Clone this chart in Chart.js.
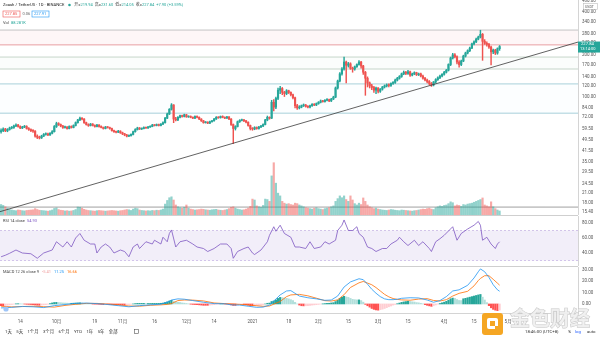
<!DOCTYPE html>
<html>
<head>
<meta charset="utf-8">
<script src="https://cdn.jsdelivr.net/npm/chart.js@4.4.0/dist/chart.umd.min.js"></script>
<style>
  html, body { margin: 0; padding: 0; background: #fff; }
  #wrap { position: relative; width: 600px; height: 338px; overflow: hidden; background: #fff; }
  canvas { position: absolute; left: 0; }
  .sep { position: absolute; left: 0; width: 578px; height: 1px; background: #cfcfcf; }
</style>
</head>
<body>
<div id="wrap">
  <canvas id="price" width="600" height="215" style="top:0"></canvas>
  <div class="sep" style="top:215px"></div>
  <canvas id="rsi" width="600" height="50" style="top:216px"></canvas>
  <div class="sep" style="top:266px"></div>
  <canvas id="macd" width="600" height="59" style="top:267px"></canvas>
  <canvas id="overlay" width="600" height="338" style="top:0;pointer-events:none"></canvas>
</div>
<script>
// ZEC/USDT daily candles (Binance), 2020-09-05 .. 2021-04-27
const firstOpen = 57;
const closes = [
  58, 59.5, 57.8, 59, 60.5, 61, 62.5, 63.5, 62, 60.5, 61.5, 62, 60, 59, 58, 57.5,
  53, 52, 51.5, 53, 54.5, 55, 54, 55.5, 57, 62, 65, 64, 62.5,
  61, 61.5, 60, 62, 61, 63, 66, 69, 71, 70, 66, 64, 63, 64.5, 63, 62, 63.5,
  62, 61, 60, 61.5, 61, 60, 58, 57, 56.5, 57.5, 56, 55, 54, 53, 53.5, 54.5,
  57, 59, 60.5, 59.5, 60, 61, 60.5, 61.5, 62, 63.5, 63, 64, 63, 64.5, 66,
  71, 76, 82, 88, 70, 69, 72, 74, 73, 75, 72.5, 73, 72, 71, 73, 72, 70,
  68, 66, 66.5, 65.5, 67, 68, 70, 72, 71.5, 73, 72, 71, 72.5, 70,
  64, 60, 62, 67, 68.5, 69, 68, 66.5, 63, 60, 59.5, 61, 60, 61.5, 62.5, 64,
  69, 72, 71, 92, 85, 98, 112, 115, 108, 106, 111, 108, 104, 99, 87, 84, 85,
  87, 88, 86, 85, 87, 89, 88, 90, 92, 94, 93, 95, 96, 94, 97, 100,
  116, 130, 146, 158, 177, 168, 172, 160, 158, 164, 170, 177, 166, 150, 136, 126,
  120, 117, 112, 116, 110, 114, 118, 120, 122, 121, 125, 127,
  132, 136, 140, 146, 150, 147, 151, 143, 146, 149, 144, 146, 141,
  136, 132, 129, 125, 122, 128, 133, 137, 141, 145, 150, 155,
  170, 189, 199, 193, 177, 170, 180, 195, 205, 213, 222, 238, 246, 257, 266,
  278, 248, 240, 236, 226, 209, 215, 205, 219.94, 227.84
];
const highs = [
  59.8, 60.6, 60.2, 59.9, 61.4, 62.0, 63.4, 64.8, 64.2, 62.6, 62.2, 63.1, 62.8, 60.9, 59.6, 58.9,
  57.9, 54.1, 53.0, 53.8, 55.3, 55.9, 55.6, 56.2, 57.9, 63.0, 66.5, 66.0, 64.6,
  63.1, 62.4, 62.0, 62.6, 62.7, 63.7, 66.8, 69.8, 72.3, 71.6, 70.6, 66.6, 64.8, 65.2, 65.0, 63.6, 64.1,
  64.0, 62.6, 61.5, 62.1, 62.0, 61.4, 60.4, 58.6, 57.5, 58.2, 57.9, 56.6, 55.5, 54.5, 54.1, 55.0,
  57.6, 59.8, 61.3, 61.0, 60.6, 61.7, 61.5, 62.1, 62.7, 64.2, 64.0, 64.6, 64.5, 65.1, 66.8,
  72.0, 77.0, 83.0, 90.0, 88.5, 72.0, 72.8, 74.8, 74.6, 75.8, 75.6, 73.8, 73.7, 72.6, 73.7, 73.8, 72.5,
  70.4, 68.5, 67.2, 67.0, 67.6, 68.6, 70.8, 72.8, 72.7, 73.6, 73.8, 72.5, 73.1, 73.0,
  70.5, 64.6, 62.8, 67.8, 69.3, 70.0, 69.6, 68.6, 67.0, 63.5, 60.9, 61.8, 61.6, 62.2, 63.2, 64.8,
  69.8, 73.5, 72.6, 95, 96, 100, 116, 119, 117, 110, 113, 112, 109, 105, 100, 89, 87,
  88, 89.5, 88.8, 87, 88, 90, 90, 91, 93, 95.5, 95, 96, 97.5, 97, 98, 101.5,
  118, 132, 149, 162, 192, 180, 176, 175, 163, 166, 172, 181, 179, 168, 152, 139,
  128, 123, 119, 118, 117, 115, 119, 122, 124, 124, 126, 129,
  134, 138, 142, 148, 153, 152, 155, 153, 148, 151, 150, 148, 148,
  143, 138, 134, 131, 127, 129, 135, 139, 143, 147, 152, 157,
  172, 192, 204, 203, 196, 181, 183, 198, 208, 216, 226, 241, 250, 261, 270,
  297, 282, 255, 246, 240, 230, 219, 218, 223, 231.6
];
const lows = [
  55.6, 57.1, 57.0, 56.9, 58.4, 59.6, 60.2, 61.8, 61.3, 59.8, 59.9, 60.8, 59.4, 58.2, 57.1, 56.4,
  52.2, 50.9, 50.6, 51.0, 52.6, 53.8, 53.4, 53.7, 55.0, 56.6, 61.0, 63.0, 61.7,
  60.2, 60.3, 59.3, 59.6, 60.4, 60.6, 62.5, 65.4, 68.2, 69.1, 65.3, 63.4, 62.1, 62.5, 62.5, 61.2, 61.5,
  61.4, 60.5, 59.4, 59.6, 60.4, 59.3, 57.5, 56.3, 55.8, 56.0, 55.4, 54.3, 53.3, 52.4, 52.6, 53.0,
  54.1, 56.5, 58.5, 59.0, 59.0, 59.6, 60.0, 60.0, 61.0, 61.7, 62.5, 62.6, 62.5, 62.6, 64.0,
  65.5, 70.4, 75.3, 81.0, 66.0, 67.8, 68.3, 71.3, 72.2, 72.4, 72.0, 71.9, 71.4, 70.3, 70.4, 71.3, 69.4,
  67.3, 65.4, 65.5, 64.9, 65.0, 66.4, 67.6, 69.5, 70.8, 71.0, 71.4, 70.4, 70.6, 69.4,
  63.0, 47.0, 58.5, 61.5, 66.2, 67.8, 67.2, 65.8, 62.3, 58.6, 58.3, 58.8, 59.3, 59.4, 60.9, 61.8,
  63.5, 68.0, 69.8, 70.5, 80, 83, 96, 106, 104, 101, 104, 106, 102, 97, 84, 82, 82.5,
  84, 85.8, 85, 84, 84, 86, 87, 87, 89, 91, 92, 92, 94, 93, 93, 96,
  99, 114, 128, 143, 155, 126, 163, 157, 150, 155, 162, 168, 160, 145, 103, 118,
  116, 113, 108, 106, 107, 108, 112, 116, 118, 118, 119, 123,
  125, 130, 134, 138, 144, 144, 145, 140, 141, 144, 142, 142, 139,
  134, 130, 126, 122, 119, 120, 126, 131, 135, 139, 143, 148,
  153, 167, 186, 189, 172, 163, 167, 178, 192, 202, 210, 220, 234, 243, 254,
  262, 182, 236, 229, 221, 169, 203, 200, 201, 214.05
];
// volume in thousands of ZEC
const volumes = [
  230, 210, 180, 150, 120, 110, 100, 95, 110, 105, 95, 90, 100, 105, 110, 115, 140, 120, 105, 100,
  95, 90, 85, 95, 110, 145, 155, 120, 105, 100, 90, 95, 85, 90, 100, 120, 175, 170, 150, 125,
  110, 100, 95, 90, 85, 95, 100, 95, 90, 85, 90, 95, 100, 95, 90, 85, 95, 100, 110, 120,
  115, 100, 130, 150, 140, 110, 100, 95, 90, 95, 90, 100, 95, 105, 100, 110, 130, 240, 320, 380,
  400, 330, 220, 180, 160, 150, 170, 220, 150, 130, 120, 110, 115, 120, 130, 125, 115, 110, 105, 115,
  120, 125, 110, 105, 100, 110, 120, 140, 170, 180, 150, 130, 120, 110, 115, 130, 150, 190, 350, 330,
  200, 180, 170, 210, 350, 340, 300, 860, 1150, 700, 480, 420, 300, 260, 240, 250, 230, 220, 260, 250,
  220, 200, 180, 160, 150, 140, 130, 150, 160, 140, 130, 120, 140, 150, 160, 180, 200, 300, 360, 420,
  380, 420, 340, 300, 420, 330, 250, 220, 260, 230, 375, 300, 220, 180, 160, 140, 150, 130, 120, 110,
  105, 100, 110, 120, 115, 105, 100, 95, 110, 105, 100, 95, 90, 85, 95, 100, 110, 120, 130, 125,
  140, 150, 130, 120, 160, 180, 200, 190, 210, 220, 250, 290, 270, 200, 220, 210, 190, 230, 220, 240,
  250, 260, 280, 300, 320, 340, 375, 220, 200, 180, 290, 180, 140, 110, 88.281
];

// horizontal levels and the rising trend line
const levelPrices = [298, 234, 192, 158, 124, 77, 16.7];
const trendStart = { x: -0.5, y: 15.5 };
const trendEnd = { x: 270.8, y: 245 };
const priceTicks = [15.4, 18, 21, 24.5, 29.5, 35, 41.5, 49.5, 59.5, 72, 84, 100, 120, 140, 170, 200, 240, 280, 340, 400, 480];

// RSI 14
const rsiIdx = [0, 2, 4, 7, 10, 14, 17, 20, 24, 26, 29, 31, 33, 35, 37, 39, 42, 44, 45, 47,
  49, 51, 53, 56, 58, 60, 62, 64, 65, 68, 71, 72, 75, 76, 78, 79, 80, 82, 84, 87,
  90, 92, 95, 97, 100, 103, 106, 108, 109, 111, 114, 116, 118, 119, 122, 125, 126, 128, 129, 131,
  133, 136, 138, 140, 143, 145, 147, 150, 152, 154, 157, 158, 160, 161, 163, 165, 167, 168, 170, 172,
  174, 176, 179, 181, 183, 186, 187, 189, 191, 194, 196, 198, 201, 202, 204, 206, 208, 212, 214, 216,
  219, 222, 224, 225, 226, 228, 230, 232, 233, 234];
const rsiVals = [35, 37, 39.6, 44, 40, 39, 33, 40, 44, 55, 48, 55, 48, 60, 66, 57, 52, 52, 40, 48,
  52, 48, 40, 44, 42, 35, 48, 52, 46, 55, 52, 57, 52, 61, 55, 66, 70.7, 48, 55, 57,
  52, 48, 46, 42, 46, 52, 52, 46, 33, 42, 46, 48, 40, 38, 44, 55, 63.6, 75, 69, 77,
  66, 61, 48, 48, 46, 55, 46, 48, 55, 52, 57, 70, 77, 84, 70, 70, 75, 66, 61, 48,
  46, 42, 46, 46, 52, 57, 61, 55, 50, 57, 50, 55, 46, 42, 55, 59, 63.6, 75, 57, 66,
  72, 77, 82, 77, 57, 61, 52, 46, 52, 54.93];
const rsiTicks = [40, 60, 80];

// MACD 12 26 9
const macdIdx = [0, 5, 10, 15, 20, 25, 30, 35, 40, 45, 50, 55, 60, 65, 70, 75, 78, 80, 83, 86,
  90, 95, 100, 105, 108, 112, 116, 120, 123, 126, 128, 131, 134, 136, 140, 144, 148, 152, 155, 158,
  161, 164, 168, 170, 172, 174, 176, 178, 180, 182, 184, 186, 188, 192, 196, 200, 203, 206, 209, 212,
  215, 219, 222, 224, 225, 227, 229, 231, 233, 234];
const macdVals = [-3.5, -3.0, -2.2, -2.5, -3.2, -1.5, -0.5, 0.5, 0.8, 0.3, -0.5, -1.5, -2.5, -1.5, -0.8, -0.2, 1.5, 3.5, 4.5, 4.2,
  3.0, 1.5, 0.3, 0.2, -0.8, -1.0, -2.0, -3.0, -2.8, -1.0, 2.5, 8.0, 11.5, 11.8, 7.0, 5.5, 4.5, 3.2, 3.5, 7.0,
  15.0, 19.5, 22.3, 21.5, 17.5, 13.0, 9.5, 6.5, 4.5, 3.8, 3.8, 4.2, 5.0, 5.5, 5.3, 3.5, 1.5, 3.0, 6.5, 11.5,
  12.5, 16.5, 23.0, 28.5, 31.0, 28.5, 23.5, 17.0, 12.5, 11.25];
const signalVals = [-2.0, -2.6, -2.3, -2.0, -2.4, -2.8, -1.3, -0.3, 0.5, 0.5, -0.1, -0.8, -1.8, -2.0, -1.2, -0.8, -0.4, 0.3, 3.0, 3.5,
  3.4, 2.7, 0.9, 0.3, 0.0, -0.4, -0.9, -1.6, -2.1, -1.8, -0.2, 2.2, 6.5, 8.0, 8.5, 7.2, 5.1, 2.9, 2.6, 3.6,
  8.2, 14.6, 18.7, 19.9, 18.5, 17.0, 14.5, 11.5, 8.5, 6.3, 4.8, 4.0, 3.6, 3.3, 4.3, 4.7, 3.1, 2.6, 3.8, 7.0,
  9.4, 11.2, 16.0, 20.7, 22.6, 25.0, 25.0, 21.8, 18.4, 16.66];
const histVals = [
  -1.5, -1.6, -1.4, -1.1, -0.8, -0.5, -0.2, 0.1, 0.2, 0.1, 0.0, -0.1, -0.3, -0.4,
  -0.5, -0.6, -0.9, -1.1, -1.2, -1.0, -0.8, -0.6, -0.3, 0.3, 0.9, 1.3, 1.4, 1.3, 1.1, 0.9, 0.8, 0.7,
  0.6, 0.6, 0.7, 0.8, 0.9, 1.0, 0.8, 0.5, 0.3,
  0.1, 0.0, -0.1, -0.2, -0.2, -0.3, -0.4, -0.5, -0.4, -0.4,
  -0.5, -0.6, -0.7, -0.7, -0.7, -0.8, -0.8, -0.8, -0.7, -0.5,
  -0.3, 0.0, 0.3, 0.5, 0.5, 0.5, 0.5, 0.4, 0.4, 0.4,
  0.5, 0.5, 0.5, 0.5, 0.6, 0.8, 1.3, 1.9, 2.6, 3.2,
  2.4, 1.8, 1.5, 1.3, 0.9, 0.7, 0.4, 0.1, -0.2, -0.4,
  -0.5, -0.6, -0.8, -1.0, -1.2, -1.2, -1.2, -1.0, -0.8, -0.6,
  -0.3, -0.2, 0.0, 0.0, -0.1, -0.1, -0.2, -0.8, -1.3, -1.3,
  -0.9, -0.6, -0.5, -0.5, -0.7, -1.1, -1.5, -1.6, -1.5, -1.4,
  -1.2, -1.0, -0.7, 0.0, 0.6, 0.8, 2.2, 2.7, 3.6, 4.9,
  5.8, 5.6, 5.2, 5.0, 4.5, 3.8, 3.0, 1.4, 0.0, -1.0,
  -1.6, -1.7, -1.6, -1.5, -1.3, -1.0, -0.8, -0.6, -0.4, -0.1,
  0.1, 0.3, 0.5, 0.6, 0.9, 1.1, 2.1, 3.4, 4.9, 6.0,
  6.8, 6.2, 5.8, 4.9, 4.1, 3.8, 3.6, 3.6, 3.0, 1.6,
  -0.4, -1.6, -2.8, -4.0, -4.8, -5.3, -5.5, -5.0, -4.6, -4.0,
  -3.3, -2.5, -1.8, -1.0, -0.5, 0.2, 0.8, 1.4, 1.8, 2.1,
  2.4, 2.2, 1.9, 1.7, 1.2, 1.0, 0.6, 0.1, -0.6, -1.2,
  -1.7, -2.1, -1.6, -0.9, -0.2, 0.4, 1.0, 1.6, 2.3, 3.4,
  4.6, 5.2, 4.9, 3.9, 3.1, 3.0, 4.6, 5.0, 5.5, 6.0,
  6.5, 7.0, 7.5, 8.0, 8.4, 6.0, 3.5, 1.2, -1.5, -3.4,
  -4.8, -5.5, -5.9, -5.41
];
const macdTicks = [0, 10, 20, 30];

// time axis: bar index -> label
const dateIdx = [9, 26, 44, 57, 72, 87, 100, 118, 135, 149, 163, 177, 191, 208, 222, 238];
const dateLabels = ['14', '10月', '19', '11月', '16', '12月', '14', '2021', '18', '2月', '15', '3月', '15', '4月', '15', '5月'];

const UP = '#26a69a', DOWN = '#ef5350';
const X_MIN = -0.5, X_MAX = 270.8;
const AXIS_W = 22;
const FONT = 'Roboto, "Noto Sans CJK SC", sans-serif';

const N = closes.length;
const opens = closes.map((c, i) => i === 0 ? firstOpen : closes[i - 1]);
const isUp = closes.map((c, i) => c >= opens[i]);
const candleColor = isUp.map(u => u ? UP : DOWN);
const volColor = isUp.map(u => u ? 'rgba(38,166,154,0.5)' : 'rgba(239,83,80,0.5)');
const histColor = histVals.map((h, i) => {
  const prev = i ? histVals[i - 1] : 0;
  if (h >= 0) return h >= prev ? '#26a69a' : '#b2dfdb';
  return h <= prev ? '#ff5252' : '#ffcdd2';
});

function rightAxis(type, min, max, ticks) {
  return {
    type, position: 'right', min, max,
    grid: { display: false, drawTicks: false },
    border: { display: true, color: '#d4d4d4', width: 1 },
    ticks: { font: { family: FONT, size: 4.5 }, color: '#555', padding: 4, autoSkip: false,
             callback: v => Number(v).toFixed(2) },
    afterBuildTicks: s => { s.ticks = ticks.map(v => ({ value: v })); },
    afterFit: s => { s.width = AXIS_W; s.paddingTop = 0; s.paddingBottom = 0; }
  };
}
const hiddenX = { type: 'linear', min: X_MIN, max: X_MAX, display: false, offset: false };

function hline(y, color, extra) {
  return Object.assign({ type: 'line', data: [{ x: X_MIN, y }, { x: X_MAX, y }],
    borderColor: color, borderWidth: 1, pointRadius: 0, fill: false }, extra || {});
}

function text(ctx, s, x, y, color, size, weight) {
  ctx.font = (weight || '') + ' ' + size + 'px ' + FONT;
  ctx.fillStyle = color;
  ctx.textBaseline = 'middle';
  ctx.textAlign = 'left';
  ctx.fillText(s, x, y);
  return ctx.measureText(s).width;
}

// header, quote boxes and last price tag
const priceDecor = {
  id: 'priceDecor',
  afterDraw(chart) {
    const ctx = chart.ctx;
    ctx.save();
    let x = 3 + text(ctx, 'Zcash / TetherUS · 1D · BINANCE', 3, 5, '#222', 4.2) + 4;
    ctx.fillStyle = UP;
    ctx.beginPath(); ctx.arc(x + 1.2, 5, 1.3, 0, Math.PI * 2); ctx.fill();
    x += 6;
    const ohlc = [['开=', opens[N - 1]], ['高=', highs[N - 1]], ['低=', lows[N - 1]], ['收=', closes[N - 1]]];
    ohlc.forEach(([k, v]) => {
      x += text(ctx, k, x, 5, '#444', 4);
      x += text(ctx, v.toFixed(2), x, 5, UP, 4) + 2;
    });
    const chg = closes[N - 1] - opens[N - 1];
    text(ctx, '+' + chg.toFixed(2) + ' (+' + (chg / opens[N - 1] * 100).toFixed(2) + '%)', x, 5, UP, 4);

    ctx.lineWidth = 0.6;
    ctx.strokeStyle = DOWN; ctx.strokeRect(3, 11, 17, 6);
    text(ctx, '227.85', 5, 14, DOWN, 4);
    text(ctx, '0.06', 22.5, 14, '#666', 4);
    ctx.strokeStyle = '#2196f3'; ctx.strokeRect(32, 11, 17, 6);
    text(ctx, '227.91', 34, 14, '#2196f3', 4);

    text(ctx, 'Vol', 3, 23, '#444', 4);
    text(ctx, volumes[N - 1].toFixed(3) + 'K', 11, 23, UP, 4);

    // currency box at the top of the price axis
    ctx.strokeStyle = '#bdbdbd'; ctx.strokeRect(583.5, 3.5, 14, 6);
    text(ctx, 'USDT', 585, 6.6, '#555', 3.6);

    const y = chart.scales.y.getPixelForValue(closes[N - 1]);
    ctx.fillStyle = UP;
    ctx.fillRect(578, y - 5, 22, 11);
    text(ctx, closes[N - 1].toFixed(2), 581, y - 2.3, '#fff', 4.2);
    text(ctx, '13:14:00', 580, y + 2.8, '#fff', 4);
    ctx.restore();
  }
};

const levelStyle = [
  { borderColor: '#c4c4c4', fill: '+1', backgroundColor: 'rgba(242,54,69,0.045)' },
  { borderColor: '#e9a3a6' },
  { borderColor: '#c6d6ca', fill: '+1', backgroundColor: 'rgba(76,175,80,0.02)' },
  { borderColor: '#c6d6ca' },
  { borderColor: '#a7d0da', fill: '+1', backgroundColor: 'rgba(33,150,243,0.012)' },
  { borderColor: '#a7d0da' },
  { borderColor: '#a0a0a0' }
];

new Chart(document.getElementById('price'), {
  type: 'bar',
  data: {
    datasets: [
      { type: 'line', data: [trendStart, trendEnd], borderColor: '#3a3a3a', borderWidth: 0.8,
        pointRadius: 0, fill: false, order: 0 },
      { data: closes.map((c, i) => ({ x: i, y: [opens[i], c] })), backgroundColor: candleColor,
        barThickness: 1.5, minBarLength: 0.8, grouped: false, order: 1 },
      { data: closes.map((c, i) => ({ x: i, y: [lows[i], highs[i]] })), backgroundColor: candleColor,
        barThickness: 0.8, grouped: false, order: 2 },
      { data: volumes.map((v, i) => ({ x: i, y: v })), yAxisID: 'yVol', backgroundColor: volColor,
        barThickness: 1.5, grouped: false, order: 3 },
      ...levelPrices.map((p, k) => hline(p, levelStyle[k].borderColor,
        Object.assign({}, levelStyle[k], { order: 4 + k })))
    ]
  },
  options: {
    responsive: false, animation: false,
    layout: { padding: 0 },
    plugins: { legend: { display: false }, tooltip: { enabled: false } },
    scales: {
      x: hiddenX,
      y: rightAxis('logarithmic', 14.68, 486, priceTicks),
      yVol: { type: 'linear', display: false, min: 0, max: 4730 }
    }
  },
  plugins: [priceDecor]
});

new Chart(document.getElementById('rsi'), {
  type: 'line',
  data: {
    datasets: [
      hline(70, 'rgba(126,87,194,0.45)', { borderDash: [2, 2], borderWidth: 0.7, fill: '+1',
        backgroundColor: 'rgba(126,87,194,0.1)' }),
      hline(30, 'rgba(126,87,194,0.45)', { borderDash: [2, 2], borderWidth: 0.7 }),
      { data: rsiIdx.map((x, k) => ({ x, y: rsiVals[k] })), borderColor: '#7e57c2', borderWidth: 0.8,
        pointRadius: 0, tension: 0, fill: false }
    ]
  },
  options: {
    responsive: false, animation: false,
    layout: { padding: 0 },
    plugins: { legend: { display: false }, tooltip: { enabled: false } },
    scales: { x: hiddenX, y: rightAxis('linear', 22.7, 89.3, rsiTicks) }
  },
  plugins: [{
    id: 'rsiLabel',
    afterDraw(chart) {
      const ctx = chart.ctx;
      const w = text(ctx, 'RSI 14 close', 3, 4.5, '#444', 4);
      text(ctx, rsiVals[rsiVals.length - 1].toFixed(2), 3 + w + 2, 4.5, '#7e57c2', 4);
    }
  }]
});

new Chart(document.getElementById('macd'), {
  type: 'bar',
  data: {
    datasets: [
      { type: 'line', data: macdIdx.map((x, k) => ({ x, y: macdVals[k] })), borderColor: '#2196f3',
        borderWidth: 0.8, pointRadius: 0, fill: false, order: 0 },
      { type: 'line', data: macdIdx.map((x, k) => ({ x, y: signalVals[k] })), borderColor: '#ff6d00',
        borderWidth: 0.8, pointRadius: 0, fill: false, order: 1 },
      { data: histVals.map((h, i) => ({ x: i, y: h })), backgroundColor: histColor,
        barThickness: 1.5, grouped: false, order: 2 }
    ]
  },
  options: {
    responsive: false, animation: false,
    layout: { padding: 0 },
    plugins: { legend: { display: false }, tooltip: { enabled: false } },
    scales: {
      x: {
        type: 'linear', min: X_MIN, max: X_MAX, offset: false,
        grid: { display: false, drawTicks: false },
        border: { display: true, color: '#d4d4d4' },
        ticks: { font: { family: FONT, size: 4.5 }, color: '#555', padding: 6, autoSkip: false,
                 maxRotation: 0, callback: (v, i) => dateLabels[i] },
        afterBuildTicks: s => { s.ticks = dateIdx.map(v => ({ value: v })); },
        afterFit: s => { s.height = 13; s.paddingLeft = 0; s.paddingRight = 0; }
      },
      y: rightAxis('linear', -8, 32.7, macdTicks)
    }
  },
  plugins: [{
    id: 'macdLabel',
    afterDraw(chart) {
      const ctx = chart.ctx;
      let x = 3 + text(ctx, 'MACD 12 26 close 9', 3, 4.5, '#444', 4) + 3;
      x += text(ctx, histVals[histVals.length - 1].toFixed(2), x, 4.5, '#ef9a9a', 4) + 3;
      x += text(ctx, macdVals[macdVals.length - 1].toFixed(2), x, 4.5, '#2196f3', 4) + 3;
      text(ctx, signalVals[signalVals.length - 1].toFixed(2), x, 4.5, '#ff6d00', 4);
    }
  }]
});

// bottom toolbar and site mark
(function drawOverlay() {
  const ctx = document.getElementById('overlay').getContext('2d');
  const ranges = ['1天', '5天', '1个月', '3个月', '6个月', 'YTD', '1年', '5年', '全部'];
  let x = 5;
  ranges.forEach(r => { x += text(ctx, r, x, 331.5, '#333', 4.3) + 4.5; });
  ctx.strokeStyle = '#555'; ctx.lineWidth = 0.6;
  ctx.strokeRect(x + 12.5, 329.5, 4, 4);

  text(ctx, '18:46:00 (UTC+8)', 525, 331.5, '#333', 4.3);
  text(ctx, '%', 568, 331.5, '#333', 4.3);
  text(ctx, 'log', 575, 331.5, '#2962ff', 4.3);
  text(ctx, 'auto', 587, 331.5, '#333', 4.3);

  // small logo in the MACD pane
  ctx.fillStyle = '#9fc5f8';
  ctx.beginPath(); ctx.arc(6, 309, 2.6, 0, Math.PI * 2); ctx.fill();

  // 金色财经 mark
  ctx.fillStyle = '#f5a623';
  ctx.beginPath(); ctx.roundRect(482, 313, 21, 22, 3); ctx.fill();
  ctx.fillStyle = '#fff';
  ctx.beginPath(); ctx.roundRect(487, 318, 11, 11, 2); ctx.fill();
  ctx.fillStyle = '#f5a623';
  ctx.fillRect(490, 321, 5, 5);
  ctx.fillRect(495, 326, 4, 4);
  ctx.font = 'bold 20px "Noto Sans CJK SC", sans-serif';
  ctx.textBaseline = 'middle';
  ctx.lineWidth = 1;
  ctx.strokeStyle = '#c8c8c8';
  ctx.fillStyle = 'rgba(240,240,240,0.9)';
  ctx.strokeText('金色财经', 510, 318);
  ctx.fillText('金色财经', 510, 318);
})();
</script>
</body>
</html>
